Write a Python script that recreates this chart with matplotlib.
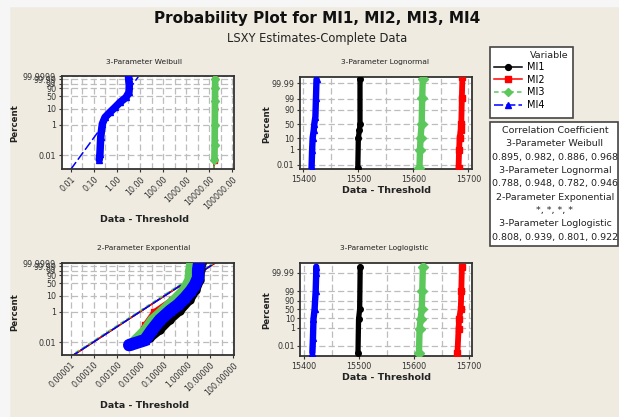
import math
import numpy as np
import matplotlib
matplotlib.use('Agg')
import matplotlib.pyplot as plt
from matplotlib.lines import Line2D
from matplotlib.patches import Rectangle
from matplotlib.ticker import FixedLocator, NullLocator

# series names / styles
series = ['MI1', 'MI2', 'MI3', 'MI4']
colors = ['black', 'red', '#5cc85c', 'blue']
markers = ['o', 's', 'D', '^']
fit_styles = ['-', '-', (0, (3, 2)), (0, (6, 2))]

# ---------------- 3-Parameter Weibull (data - threshold, percent) ----------------
weib_x = [
    [16900, 17200, 17500, 17600, 17700],                       # MI1
    [16900, 17200, 17500, 17700, 17800],                       # MI2
    [16600, 17000, 17300, 17600, 17800, 17900],                # MI3
    [0.173, 0.185, 0.2, 0.235, 0.306, 0.5, 0.83, 1.36, 2.48, 3.34, 3.44, 3.24, 3.2],  # MI4
]
weib_p = [
    [0.006, 0.1, 10, 90, 99.99],
    [0.0043, 0.05, 10, 90, 99.9997],
    [0.0053, 0.05, 1, 30, 90, 99.99],
    [0.0053, 0.0128, 0.152, 1.1, 2.9, 6.1, 12.3, 24.3, 44.1, 71.5, 96.4, 99.988, 99.9999],
]
weib_fit_x = [[16400, 16400], [16400, 16400], [16400, 16400], [0.01, 8.4]]
weib_fit_p = [[0.0012, 99.9999], [0.0012, 99.9999], [0.0012, 99.9999], [0.0012, 99.9997]]

# ---------------- 3-Parameter Lognormal ----------------
logn_x = [
    [15499, 15500, 15502, 15503, 15503],
    [15682, 15683, 15684, 15686, 15687, 15688, 15689],
    [15611, 15612, 15613, 15615, 15616, 15617],
    [15415, 15416, 15417, 15419, 15420, 15422, 15423, 15424],
]
logn_p = [
    [0.0026, 10.5, 29, 50, 99.9977],
    [0.0026, 0.87, 10.5, 29, 50, 99.06, 99.999],
    [0.0026, 0.87, 10.5, 50, 99.06, 99.9977],
    [0.0026, 0.87, 10.5, 29, 50, 75, 99.06, 99.9977],
]

# ---------------- 2-Parameter Exponential ----------------
expo_x = [
    [0.0262, 0.0707, 0.19, 0.514, 1.39, 2.52, 3.74, 4.0, 4.56],
    [0.0072, 0.016, 0.04, 0.232, 0.627, 2.28, 3.74, 4.0],
    [0.00484, 0.016, 0.0319, 0.0861, 0.284, 0.765, 1.26, 1.38, 1.53],
    [0.0033, 0.016, 0.0319, 0.0707, 0.19, 0.42, 0.845, 1.53, 2.28, 3.07, 3.07, 3.39],
]
expo_p = [
    [0.019, 0.064, 0.29, 1.1, 5.7, 23.3, 69, 99.5, 99.9999],
    [0.0142, 0.136, 0.96, 5.7, 23.3, 69, 99.5, 99.9999],
    [0.0105, 0.064, 0.29, 1.1, 5.7, 23.3, 69, 99.5, 99.9999],
    [0.0066, 0.0142, 0.064, 0.29, 1.1, 2.7, 7.6, 20.4, 43, 80, 99.5, 99.9999],
]
expo_fit_x = [[1e-5, 16.6], [1e-5, 16.6], [0.85e-5, 14.0], [1e-5, 16.6]]
expo_fit_p = [[0.00114, 99.99996]] * 4

# ---------------- 3-Parameter Loglogistic ----------------
logl_x = [
    [15498, 15499, 15501, 15502],
    [15679, 15681, 15682, 15685, 15686, 15687],
    [15609, 15610, 15612, 15614, 15615, 15616],
    [15415, 15416, 15417, 15419, 15421, 15422, 15422],
]
logl_p = [
    [0.0018, 8, 50, 99.9978],
    [0.0018, 0.7, 8, 50, 99, 99.9978],
    [0.0018, 0.7, 8, 50, 99, 99.9978],
    [0.0018, 0.067, 8, 50, 99, 99.99, 99.9978],
]

# correlation coefficients (MI1..MI4)
corr_weibull = ['0.895', '0.982', '0.886', '0.968']
corr_lognormal = ['0.788', '0.948', '0.782', '0.946']
corr_expo = ['*', '*', '*', '*']
corr_loglogistic = ['0.808', '0.939', '0.801', '0.922']


# ---- probability scales ----
def weib_fwd(p):
    q = np.clip(np.asarray(p, float) / 100.0, 1e-12, 1 - 1e-12)
    return np.log(-np.log1p(-q))


def weib_inv(w):
    return 100.0 * (-np.expm1(-np.exp(w)))


def norm_ppf(q):
    q = np.asarray(q, float)
    shape = q.shape
    q = np.clip(np.atleast_1d(q), 1e-15, 1 - 1e-15)
    a = [-3.969683028665376e+01, 2.209460984245205e+02, -2.759285104469687e+02,
         1.383577518672690e+02, -3.066479806614716e+01, 2.506628277459239e+00]
    b = [-5.447609879822406e+01, 1.615858368580409e+02, -1.556989798598866e+02,
         6.680131188771972e+01, -1.328068155288572e+01]
    c = [-7.784894002430293e-03, -3.223964580411365e-01, -2.400758277161838e+00,
         -2.549671010515838e+00, 4.374664141464968e+00, 2.938163982698783e+00]
    d = [7.784695709041462e-03, 3.224671290700398e-01, 2.445134137142996e+00,
         3.754408661907416e+00]
    out = np.empty_like(q)
    lo = q < 0.02425
    hi = q > 1 - 0.02425
    mid = ~(lo | hi)
    r = np.sqrt(-2 * np.log(q[lo]))
    out[lo] = (((((c[0]*r+c[1])*r+c[2])*r+c[3])*r+c[4])*r+c[5]) / ((((d[0]*r+d[1])*r+d[2])*r+d[3])*r+1)
    r = np.sqrt(-2 * np.log(1 - q[hi]))
    out[hi] = -(((((c[0]*r+c[1])*r+c[2])*r+c[3])*r+c[4])*r+c[5]) / ((((d[0]*r+d[1])*r+d[2])*r+d[3])*r+1)
    s = q[mid] - 0.5
    r = s * s
    out[mid] = (((((a[0]*r+a[1])*r+a[2])*r+a[3])*r+a[4])*r+a[5])*s / (((((b[0]*r+b[1])*r+b[2])*r+b[3])*r+b[4])*r+1)
    return out.reshape(shape)


_erf = np.vectorize(math.erf)


def norm_fwd(p):
    return norm_ppf(np.asarray(p, float) / 100.0)


def norm_inv(z):
    return 100.0 * 0.5 * (1 + _erf(np.asarray(z, float) / math.sqrt(2)))


def logit_fwd(p):
    q = np.clip(np.asarray(p, float) / 100.0, 1e-12, 1 - 1e-12)
    return np.log(q / (1 - q))


def logit_inv(z):
    return 100.0 / (1 + np.exp(-np.asarray(z, float)))


W, H = 619, 417
fig = plt.figure(figsize=(W / 100, H / 100), dpi=100)
fig.patch.set_facecolor('#efebe1')
# light strip on the left/top like the screenshot
fig.patches.append(Rectangle((0, 0), 9 / W, 1, transform=fig.transFigure, color='#f6f6f6', zorder=0))
fig.patches.append(Rectangle((0, 1 - 6 / H), 1, 6 / H, transform=fig.transFigure, color='#f6f6f6', zorder=0))


def px_axes(l, t, r, b):
    return fig.add_axes([l / W, 1 - b / H, (r - l) / W, (b - t) / H])


grid_kw = dict(color='#bdbdbd', linestyle=(0, (5, 2.5)), linewidth=0.9)


def style_axes(ax, yticks, ylabels):
    ax.set_facecolor('white')
    for s in ax.spines.values():
        s.set_linewidth(1.3)
        s.set_color('#333333')
    ax.yaxis.set_major_locator(FixedLocator(yticks))
    ax.set_yticklabels(ylabels)
    ax.yaxis.set_minor_locator(NullLocator())
    ax.tick_params(axis='both', which='major', direction='out', length=2.5, width=0.8,
                   colors='#333333', labelsize=5.8, pad=1.5)
    ax.tick_params(axis='both', which='minor', length=0)
    ax.grid(True, which='both', **grid_kw)
    ax.set_axisbelow(True)


def log_xaxis(ax, ticks, labels):
    ax.set_xscale('log')
    ax.xaxis.set_major_locator(FixedLocator(ticks))
    ax.xaxis.set_minor_locator(FixedLocator([t * math.sqrt(10) for t in ticks] + [ticks[0] / math.sqrt(10)]))
    ax.set_xticklabels(labels, rotation=45, ha='right', rotation_mode='anchor', fontsize=5.8)


def lin_xaxis(ax):
    ax.xaxis.set_major_locator(FixedLocator([15400, 15500, 15600, 15700]))
    ax.xaxis.set_minor_locator(FixedLocator([15450, 15550, 15650]))
    ax.set_xticklabels(['15400', '15500', '15600', '15700'], fontsize=6)


def draw(ax, xs, ps, lws, ms, fx=None, fp=None):
    if fx is not None:
        for i in range(4):
            ax.plot(fx[i], fp[i], color=colors[i], lw=1.1, linestyle=fit_styles[i], zorder=2)
    for i in range(4):
        ax.plot(xs[i], ps[i], color=colors[i], lw=lws[i], marker=markers[i], ms=ms[i],
                solid_capstyle='round', solid_joinstyle='round', zorder=3 + i)


yt_w = [0.01, 1, 10, 50, 90, 99, 99.99, 99.9999]
yl_w = ['0.01', '1', '10', '50', '90', '99', '99.99', '99.9999']
yt = [0.01, 1, 10, 50, 90, 99, 99.99]
yl = ['0.01', '1', '10', '50', '90', '99', '99.99']

# Weibull
ax1 = px_axes(61.7, 76.3, 234, 169.3)
ax1.set_yscale('function', functions=(weib_fwd, weib_inv))
draw(ax1, weib_x, weib_p, [2.5, 2.5, 4.8, 5.4], [3, 3.2, 4.5, 5], weib_fit_x, weib_fit_p)
log_xaxis(ax1, [0.01, 0.1, 1, 10, 100, 1000, 10000, 100000],
          ['0.01', '0.10', '1.00', '10.00', '100.00', '1000.00', '10000.00', '100000.00'])
ax1.set_xlim(0.0041, 117000)
ax1.set_ylim(0.00124, 99.9999)
style_axes(ax1, yt_w, yl_w)

# Lognormal
ax2 = px_axes(300, 76.7, 472.3, 169)
ax2.set_yscale('function', functions=(norm_fwd, norm_inv))
draw(ax2, logn_x, logn_p, [3.8, 4.2, 4.6, 4.6], [4, 4.5, 5, 5])
lin_xaxis(ax2)
ax2.set_xlim(15394, 15707)
ax2.set_ylim(0.00198, 99.99922)
style_axes(ax2, yt, yl)

# Exponential
ax3 = px_axes(61.7, 263.3, 234.3, 355)
ax3.set_yscale('function', functions=(weib_fwd, weib_inv))
draw(ax3, expo_x, expo_p, [6, 4, 7, 9], [5, 4.5, 5, 6], expo_fit_x, expo_fit_p)
log_xaxis(ax3, [1e-5, 1e-4, 1e-3, 1e-2, 0.1, 1, 10, 100],
          ['0.00001', '0.00010', '0.00100', '0.01000', '0.10000', '1.00000', '10.00000', '100.00000'])
ax3.set_xlim(4.1e-6, 110)
ax3.set_ylim(0.0015, 99.9999)
style_axes(ax3, yt_w, yl_w)

# Loglogistic
ax4 = px_axes(300.3, 263.3, 472.3, 356)
ax4.set_yscale('function', functions=(logit_fwd, logit_inv))
draw(ax4, logl_x, logl_p, [3.8, 4.2, 4.6, 4.6], [4, 4.5, 5, 5])
lin_xaxis(ax4)
ax4.set_xlim(15393, 15706)
ax4.set_ylim(0.00078, 99.99908)
style_axes(ax4, yt, yl)


def ftext(x, y, s, **kw):
    fig.text(x / W, 1 - y / H, s, ha='center', va='center', **kw)


ftext(317, 18, 'Probability Plot for MI1, MI2, MI3, MI4', fontsize=11, fontweight='bold', color='#111111')
ftext(317.5, 38.5, 'LSXY Estimates-Complete Data', fontsize=8.3, color='#222222')

ftext(144, 62.3, '3-Parameter Weibull', fontsize=5.4, color='#222222')
ftext(385, 62.3, '3-Parameter Lognormal', fontsize=5.4, color='#222222')
ftext(144, 248.3, '2-Parameter Exponential', fontsize=5.4, color='#222222')
ftext(384, 247.7, '3-Parameter Loglogistic', fontsize=5.4, color='#222222')

for (x, y) in [(15, 123), (267, 124), (15, 312), (267, 310)]:
    ftext(x, y, 'Percent', fontsize=6.2, fontweight='bold', rotation=90, color='#222222')
for (x, y) in [(145, 219.3), (386, 190.7), (145, 405), (386, 377.3)]:
    ftext(x, y, 'Data - Threshold', fontsize=6.8, fontweight='bold', color='#222222')

# legend box
fig.patches.append(Rectangle((490 / W, 1 - 118.3 / H), 83.3 / W, 71 / H, transform=fig.transFigure,
                             facecolor='white', edgecolor='#444444', lw=1.2, zorder=1))
ftext(549, 56, 'Variable', fontsize=6.8, color='#222222')
handles = [Line2D([], [], color=colors[i], marker=markers[i], ms=4.2, lw=1.1,
                  linestyle=fit_styles[i]) for i in range(4)]
fig.legend(handles, series, loc='upper left', bbox_to_anchor=(494 / W, 1 - 62 / H),
           frameon=False, fontsize=7, handlelength=2.9, handletextpad=0.5,
           labelspacing=0.28, borderpad=0, borderaxespad=0)

# correlation box
fig.patches.append(Rectangle((490 / W, 1 - 246 / H), 128 / W, 124 / H, transform=fig.transFigure,
                             facecolor='white', edgecolor='#444444', lw=1.2, zorder=1))
corr_lines = ['Correlation Coefficient',
              '3-Parameter Weibull', ', '.join(corr_weibull),
              '3-Parameter Lognormal', ', '.join(corr_lognormal),
              '2-Parameter Exponential', ', '.join(corr_expo),
              '3-Parameter Loglogistic', ', '.join(corr_loglogistic)]
for k, s in enumerate(corr_lines):
    ftext(555, 130.5 + k * 13.35, s, fontsize=6.8, color='#222222')

fig.savefig('out.png', dpi=100, facecolor=fig.get_facecolor())
